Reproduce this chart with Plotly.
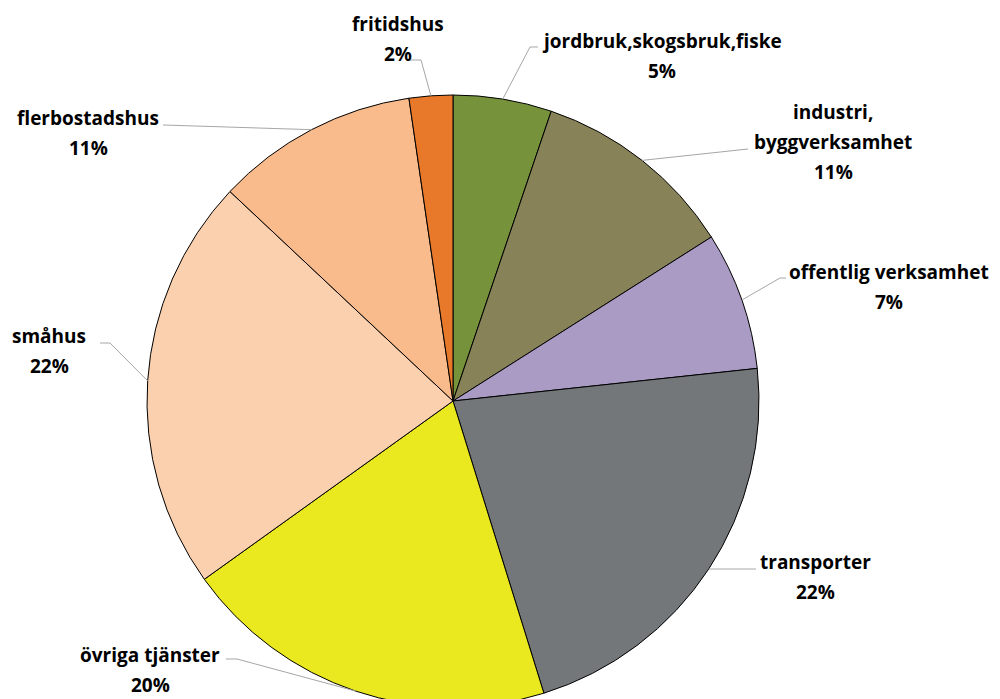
import math

import plotly.graph_objects as go

# slices, clockwise from 12 o'clock
labels = [
    "jordbruk,skogsbruk,fiske",
    "industri,\nbyggverksamhet",
    "offentlig verksamhet",
    "transporter",
    "övriga tjänster",
    "småhus",
    "flerbostadshus",
    "fritidshus",
]
values = [5.2, 10.8, 7.3, 21.9, 19.9, 21.9, 10.7, 2.3]
colors = ["#76933C", "#878257", "#A99BC3", "#73777A", "#EAE81F", "#FAD0AE", "#F9BA8C", "#E8782A"]

W, H = 1000, 699
OFF = 8                    # page body margin the browser adds
CX, TOP = 453, 95          # pie centre x and top edge, screen pixels
R = (H - TOP + OFF) / 2
CY = TOP + R

# label block: first-line centre, and leader (elbow, end) points, screen pixels
label_pos = [(662, 41), (833, 112), (889, 272), (815, 562), (150, 655), (49, 336), (88, 118), (398, 24)]
leaders = [
    [(530, 47), (538, 47)],
    [(748, 149)],
    [(780, 278), (786, 278)],
    [(756, 569)],
    [(237, 659), (226, 659)],
    [(110, 343), (100, 343)],
    [(163, 125)],
    [(421, 60), (410, 60)],
]
LINE_H = 30


def px(x, y):
    return (x - OFF) / W, 1 - (y - OFF) / H


fig = go.Figure(
    go.Pie(
        labels=[l.replace("\n", " ") for l in labels],
        values=values,
        marker=dict(colors=colors, line=dict(color="#000000", width=1)),
        sort=False,
        direction="clockwise",
        rotation=0,
        textinfo="none",
        hoverinfo="label+percent",
        domain=dict(x=[(CX - OFF - R) / W, (CX - OFF + R) / W], y=[0, 1 - (TOP - OFF) / H]),
    )
)

total = sum(values)
cum = 0
annotations = []
shapes = []
for lab, v, (lx, ly), pts in zip(labels, values, label_pos, leaders):
    mid = (cum + v / 2) / total * 2 * math.pi
    cum += v
    sx, sy = CX + R * math.sin(mid), CY - R * math.cos(mid)
    path = [(sx, sy)] + pts
    d = "M " + " L ".join(f"{px(x, y)[0]:.5f},{px(x, y)[1]:.5f}" for x, y in path)
    shapes.append(dict(type="path", xref="paper", yref="paper", path=d,
                       line=dict(color="#A6A6A6", width=1)))
    lines = lab.split("\n") + [f"{round(v / total * 100)}%"]
    for i, t in enumerate(lines):
        x, y = px(lx, ly + i * LINE_H)
        annotations.append(dict(
            text=t, x=x, y=y, xref="paper", yref="paper", showarrow=False,
            xanchor="center", yanchor="middle",
            font=dict(family="Open Sans", size=19, color="#000000", weight="bold"),
        ))

fig.update_layout(
    width=W,
    height=H,
    margin=dict(l=0, r=0, t=0, b=0),
    paper_bgcolor="white",
    showlegend=False,
    annotations=annotations,
    shapes=shapes,
)

fig.write_html("out.html")
